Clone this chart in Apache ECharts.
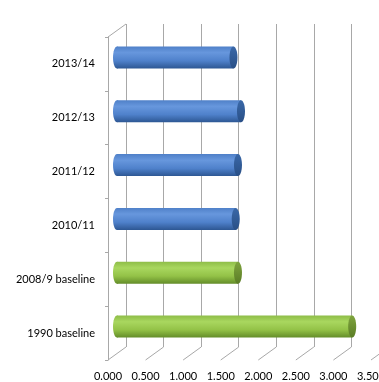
<!DOCTYPE html>
<html>
<head>
<meta charset="utf-8">
<script src="https://cdn.jsdelivr.net/npm/echarts@6/dist/echarts.min.js"></script>
<style>
  html, body { margin: 0; padding: 0; background: #fff; }
  #chart { width: 379px; height: 382px; }
</style>
</head>
<body>
<div id="chart"></div>
<script>
// Categories from bottom to top
var categories = ['1990 baseline', '2008/9 baseline', '2010/11', '2011/12', '2012/13', '2013/14'];
// Baseline years (green) and annual results (blue)
var baselineValues = [3.13, 1.61, null, null, null, null];
var annualValues = [null, null, 1.58, 1.61, 1.65, 1.55];
// Value axis ticks
var tickValues = [0, 0.5, 1, 1.5, 2, 2.5, 3, 3.5];

// Depth of the pseudo-3D box (front edge to back wall)
var DEPTH_X = 18, DEPTH_Y = -13;
var GRID_COLOR = '#a8a8a8';
var FONT = 'Lato, "Open Sans", sans-serif';

function grad(stops) {
  return new echarts.graphic.LinearGradient(0, 0, 0, 1, stops.map(function (c) {
    return { offset: c[0], color: c[1] };
  }));
}

var palettes = {
  green: {
    body: [[0, '#8ebd48'], [0.28, '#a9d75f'], [0.65, '#93c247'], [1, '#638c29']],
    cap: [[0, '#7fa43e'], [1, '#5a7c25']]
  },
  blue: {
    body: [[0, '#4f80c8'], [0.28, '#6797dd'], [0.65, '#4f81cb'], [1, '#2d5793']],
    cap: [[0, '#3a68a8'], [1, '#294f86']]
  }
};

function cylinder(paletteName) {
  var pal = palettes[paletteName];
  return function (params, api) {
    var v = api.value(0);
    if (v == null || isNaN(v)) return;
    var cat = api.value(1);
    var p0 = api.coord([0, cat]);
    var p1 = api.coord([v, cat]);
    var band = api.size([0, 1])[1];
    var h = band * 0.41;
    var rx = 4;
    var cx0 = p0[0] + DEPTH_X / 2, cx1 = p1[0] + DEPTH_X / 2;
    var cy = p0[1] + DEPTH_Y / 2;
    var top = cy - h / 2;
    return {
      type: 'group',
      children: [
        { type: 'ellipse', shape: { cx: cx0, cy: cy, rx: rx, ry: h / 2 },
          style: { fill: grad(pal.body) } },
        { type: 'rect', shape: { x: cx0, y: top, width: cx1 - cx0, height: h },
          style: { fill: grad(pal.body) } },
        { type: 'ellipse', shape: { cx: cx1, cy: cy, rx: rx, ry: h / 2 },
          style: { fill: grad(pal.cap) } }
      ]
    };
  };
}

function pairs(values) {
  return values.map(function (v, i) { return [v == null ? NaN : v, i]; });
}

var chart = echarts.init(document.getElementById('chart'), null, { renderer: 'canvas' });

chart.setOption({
  animation: false,
  backgroundColor: '#fff',
  grid: [
    { left: 108, right: 8, top: 37, bottom: 22, outerBoundsMode: 'none', containLabel: false },
    { left: 108 + DEPTH_X, right: 8 - DEPTH_X, top: 37 + DEPTH_Y, bottom: 22 - DEPTH_Y,
      outerBoundsMode: 'none', containLabel: false }
  ],
  xAxis: [
    {
      gridIndex: 0, type: 'value', min: 0, max: 3.5, interval: 0.5,
      axisLine: { show: false }, axisTick: { show: false }, splitLine: { show: false },
      axisLabel: {
        margin: 11, color: '#000', fontSize: 11, fontFamily: FONT,
        formatter: function (v) { return v.toFixed(3); }
      }
    },
    {
      gridIndex: 1, type: 'value', min: 0, max: 3.5, interval: 0.5,
      axisLine: { show: false }, axisTick: { show: false }, axisLabel: { show: false },
      splitLine: { show: true, lineStyle: { color: GRID_COLOR, width: 1 } }
    }
  ],
  yAxis: [
    {
      gridIndex: 0, type: 'category', data: categories,
      axisLine: { show: true, lineStyle: { color: GRID_COLOR, width: 1 } },
      axisTick: { show: true, length: 3, lineStyle: { color: GRID_COLOR } },
      axisLabel: { margin: 13, color: '#000', fontSize: 11, fontFamily: FONT },
      splitLine: { show: false }
    },
    {
      gridIndex: 1, type: 'category', data: categories, show: false
    }
  ],
  series: [
    {
      // floor lines running back from each tick
      type: 'custom', xAxisIndex: 0, yAxisIndex: 0, silent: true,
      data: tickValues.map(function (t) { return [t, 0]; }),
      renderItem: function (params, api) {
        var cs = params.coordSys;
        var x = api.coord([api.value(0), 0])[0];
        var yb = cs.y + cs.height;
        return {
          type: 'line',
          shape: { x1: x, y1: yb, x2: x + DEPTH_X, y2: yb + DEPTH_Y },
          style: { stroke: GRID_COLOR, lineWidth: 1 }
        };
      }
    },
    {
      // top edge of the side wall
      type: 'custom', xAxisIndex: 0, yAxisIndex: 0, silent: true,
      data: [[0, 0]],
      renderItem: function (params, api) {
        var cs = params.coordSys;
        return {
          type: 'line',
          shape: { x1: cs.x, y1: cs.y, x2: cs.x + DEPTH_X, y2: cs.y + DEPTH_Y },
          style: { stroke: GRID_COLOR, lineWidth: 1 }
        };
      }
    },
    {
      name: 'Baseline', type: 'custom', xAxisIndex: 0, yAxisIndex: 0,
      data: pairs(baselineValues), encode: { x: 0, y: 1 },
      renderItem: cylinder('green')
    },
    {
      name: 'Annual', type: 'custom', xAxisIndex: 0, yAxisIndex: 0,
      data: pairs(annualValues), encode: { x: 0, y: 1 },
      renderItem: cylinder('blue')
    }
  ]
});
</script>
</body>
</html>
